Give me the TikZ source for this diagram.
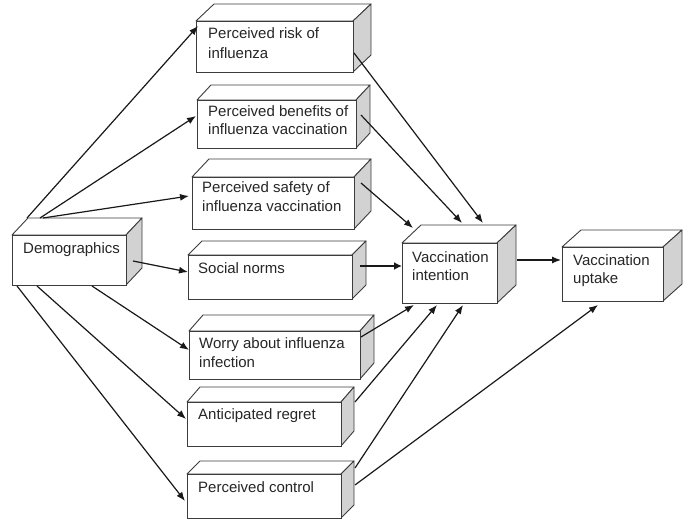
\documentclass[tikz,border=0pt]{standalone}
\usepackage{fontspec}
\setmainfont{Liberation Sans}
\usetikzlibrary{arrows.meta,fit}
\definecolor{edge}{HTML}{3C3C3C}
\definecolor{sidegray}{HTML}{D2D2D2}
\definecolor{txt}{HTML}{262626}
\tikzset{
  front/.style={draw=edge, line width=0.9pt, fill=white, inner sep=0pt, outer sep=0pt},
  face/.style={draw=edge, line width=0.9pt, line join=round},
  lbl/.style={anchor=base west, inner sep=0pt, align=left, text=txt,
    font=\fontsize{15}{18.5}\selectfont},
  arr/.style={draw=black!90, line width=1.2pt, -{Latex[length=9pt,width=7pt]}},
  thickarr/.style={draw=black!90, line width=2.4pt, -{Latex[length=8pt,width=8pt]}},
}
\newcommand\cubebox[7]{% name L T R B dx dy
  \coordinate (#1-nw) at (#2,#3);
  \coordinate (#1-se) at (#4,#5);
  \filldraw[face, fill=white] (#2,#3) -- ({#2+#6},{#3-#7}) -- ({#4+#6},{#3-#7}) -- (#4,#3) -- cycle;
  \filldraw[face, fill=sidegray] (#4,#3) -- ({#4+#6},{#3-#7}) -- ({#4+#6},{#5-#7}) -- (#4,#5) -- cycle;
  \node[front, fit=(#1-nw)(#1-se)] (#1) {};
}
\begin{document}
\begin{tikzpicture}[x=1pt,y=-1pt]
\useasboundingbox[fill=white] (0,0) rectangle (686,521);

% boxes
\cubebox{risk}{196}{21}{353}{72}{18}{17}
\cubebox{benefits}{197}{100}{356}{148}{14}{15}
\cubebox{safety}{192}{177}{354}{229}{17}{18}
\cubebox{demo}{12}{235}{126}{285}{16}{17}
\cubebox{social}{188}{255}{352}{299}{14}{14}
\cubebox{intention}{402}{243}{497}{303}{19}{18}
\cubebox{uptake}{562}{247}{663}{301}{19}{17}
\cubebox{worry}{189}{331}{360}{379}{14}{16}
\cubebox{regret}{187}{402}{341}{446}{13}{15}
\cubebox{control}{187}{474}{341}{518}{13}{13}

% labels (base anchor = baseline of the last line)
\node[lbl, font=\fontsize{15}{20}\selectfont] (risk-t) at (208,59) {Perceived risk of\\influenza};
\node[lbl, font=\fontsize{15}{17.5}\selectfont] (benefits-t) at (208,134.5) {Perceived benefits of\\influenza vaccination};
\node[lbl, font=\fontsize{15}{19}\selectfont] (safety-t) at (202,212) {Perceived safety of\\influenza vaccination};
\node[lbl] (demo-t) at (23,254) {Demographics};
\node[lbl] (social-t) at (198,274) {Social norms};
\node[lbl, font=\fontsize{15}{18}\selectfont] (intention-t) at (412,281) {Vaccination\\intention};
\node[lbl, font=\fontsize{15}{18}\selectfont] (uptake-t) at (573,284) {Vaccination\\uptake};
\node[lbl, font=\fontsize{15}{19}\selectfont] (worry-t) at (199,368) {Worry about influenza\\infection};
\node[lbl] (regret-t) at (198,420) {Anticipated regret};
\node[lbl] (control-t) at (198,493) {Perceived control};

% connector end points
\coordinate (demo-o1) at (27,218);
\coordinate (demo-o2) at (40,218);
\coordinate (demo-o3) at (43,218);
\coordinate (demo-o4) at (133,261);
\coordinate (demo-o5) at (92,286);
\coordinate (demo-o6) at (37,286);
\coordinate (demo-o7) at (17,286);
\coordinate (risk-i) at (198,26);
\coordinate (benefits-i) at (196,116);
\coordinate (safety-i) at (189,196);
\coordinate (social-i) at (188,272);
\coordinate (worry-i) at (189,350);
\coordinate (regret-i) at (186,419);
\coordinate (control-i) at (185,501);
\coordinate (risk-o) at (354,53);
\coordinate (benefits-o) at (361,115);
\coordinate (safety-o) at (361,183);
\coordinate (social-o) at (360,266);
\coordinate (worry-o) at (361,337);
\coordinate (regret-o) at (355,402);
\coordinate (control-o1) at (355,468);
\coordinate (control-o2) at (355,485);
\coordinate (intention-i1) at (483,223);
\coordinate (intention-i2) at (462,223);
\coordinate (intention-i3) at (413,228);
\coordinate (intention-i4) at (402,266);
\coordinate (intention-i5) at (414,305);
\coordinate (intention-i6) at (437,305);
\coordinate (intention-i7) at (463,305);
\coordinate (intention-o) at (517,260);
\coordinate (uptake-i1) at (561,260);
\coordinate (uptake-i2) at (598,305);

% connectors
\draw[arr] (demo-o1) -- (risk-i);
\draw[arr] (demo-o2) -- (benefits-i);
\draw[arr] (demo-o3) -- (safety-i);
\draw[arr] (demo-o4) -- (social-i);
\draw[arr] (demo-o5) -- (worry-i);
\draw[arr] (demo-o6) -- (regret-i);
\draw[arr] (demo-o7) -- (control-i);
\draw[arr] (risk-o) -- (intention-i1);
\draw[arr] (benefits-o) -- (intention-i2);
\draw[arr] (safety-o) -- (intention-i3);
\draw[thickarr] (social-o) -- (intention-i4);
\draw[arr] (worry-o) -- (intention-i5);
\draw[arr] (regret-o) -- (intention-i6);
\draw[arr] (control-o1) -- (intention-i7);
\draw[arr] (control-o2) -- (uptake-i2);
\draw[arr] (intention-o) -- (uptake-i1);
\end{tikzpicture}
\end{document}
